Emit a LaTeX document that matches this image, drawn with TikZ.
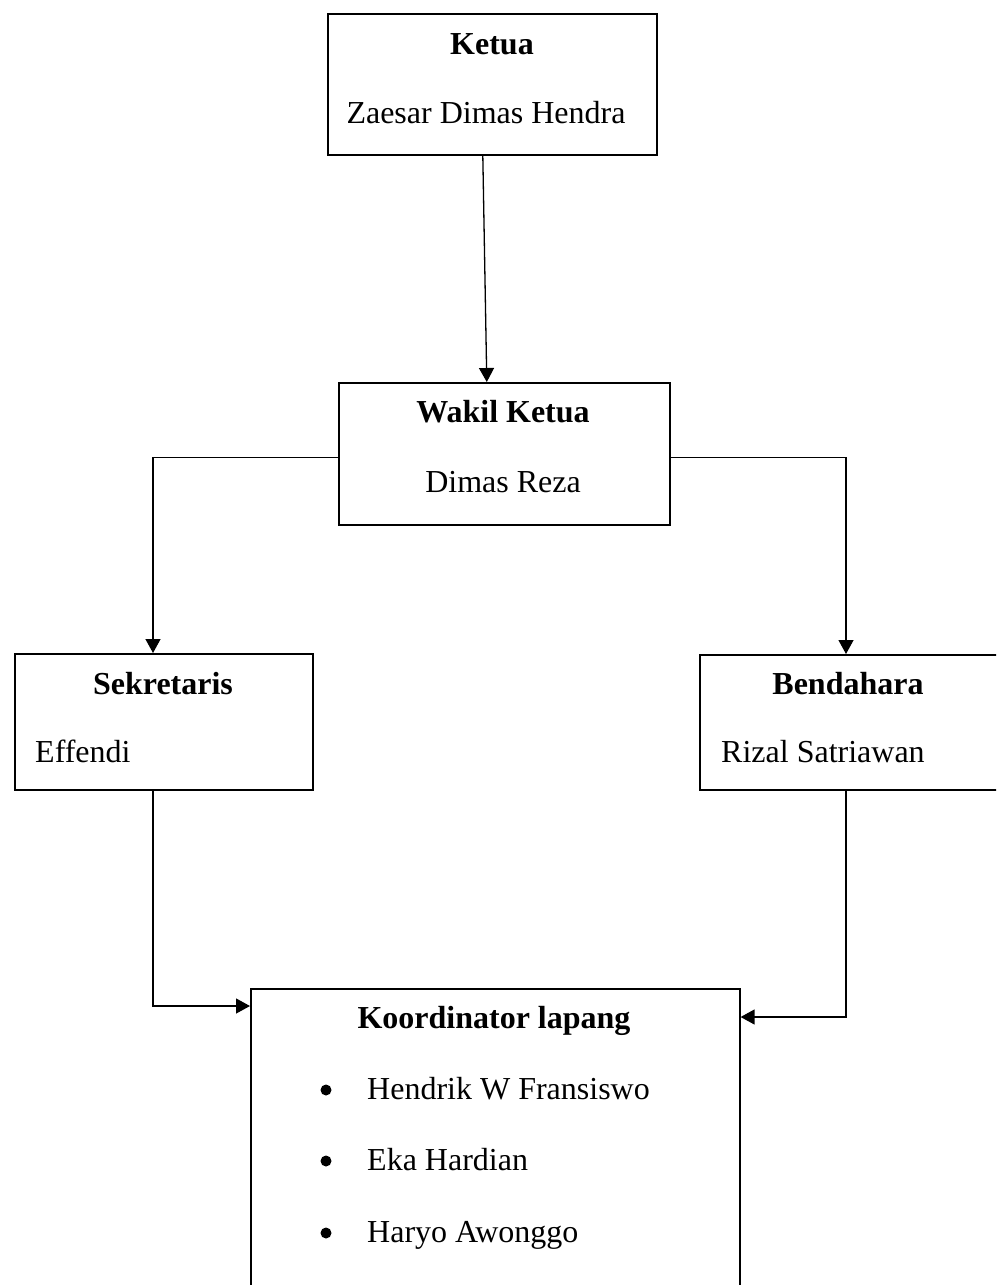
\documentclass[tikz,border=0pt]{standalone}
\usepackage{fontspec}
\setmainfont{Liberation Serif}
\usetikzlibrary{arrows.meta,calc}
\tikzset{
  box/.style={draw, line width=1.6pt, rectangle, inner sep=0pt, anchor=north west},
  txt/.style={font=\fontsize{32}{38}\selectfont, inner sep=0pt, anchor=base},
  ttl/.style={txt, font=\fontsize{32}{38}\selectfont\bfseries},
  ltxt/.style={txt, anchor=base west},
  dot/.style={circle, fill, inner sep=0pt, minimum size=11pt},
  conn/.style={line width=1.3pt},
  arr/.style={conn, -{Triangle[length=14pt,width=15pt]}}
}
\begin{document}
\begin{tikzpicture}[x=1pt,y=-1pt]
\useasboundingbox (0,0) rectangle (996,1285);
\clip (0,0) rectangle (996,1285);
\fill[white] (0,0) rectangle (996,1285);
% boxes
\node[box, minimum width=329pt, minimum height=141pt] (ketua) at (327,13) {};
\node[box, minimum width=331pt, minimum height=142pt] (wakil) at (338,382) {};
\node[box, minimum width=298pt, minimum height=136pt] (sek) at (14,653) {};
\node[box, minimum width=320pt, minimum height=135pt] (bend) at (699,654) {};
\node[box, minimum width=489pt, minimum height=320pt] (koor) at (250,988) {};
% texts
\node[ttl] (t1) at (492,54) {Ketua};
\node[txt] (n1) at (486,123) {Zaesar Dimas Hendra};
\node[ttl] (t2) at (503,422) {Wakil Ketua};
\node[txt] (n2) at (503,492) {Dimas Reza};
\node[ttl] (t3) at (163,694) {Sekretaris};
\node[ltxt] (n3) at (35,762) {Effendi};
\node[ttl] (t4) at (848,694) {Bendahara};
\node[ltxt] (n4) at (721,762) {Rizal Satriawan};
\node[ttl] (t5) at (494,1028) {Koordinator lapang};
\node[dot] (b1) at (326,1090) {};
\node[dot] (b2) at (326,1161) {};
\node[dot] (b3) at (326,1233) {};
\node[ltxt] (i1) at (367,1099) {Hendrik W Fransiswo};
\node[ltxt] (i2) at (367,1170) {Eka Hardian};
\node[ltxt] (i3) at (367,1242) {Haryo Awonggo};
% connectors
\draw[arr] ($(ketua.south)+(-9.5,0)$) -- ($(wakil.north)+(-17.5,0)$);
\draw[arr] ($(wakil.west)+(0,4)$) -| ($(sek.north west)+(139,0)$);
\draw[arr] ($(wakil.east)+(0,4)$) -| ($(bend.north west)+(147,0)$);
\draw[arr] ($(sek.south west)+(139,0)$) |- ($(koor.north west)+(0,18)$);
\draw[arr] ($(bend.south west)+(147,0)$) |- ($(koor.north east)+(0,29)$);
\end{tikzpicture}
\end{document}
